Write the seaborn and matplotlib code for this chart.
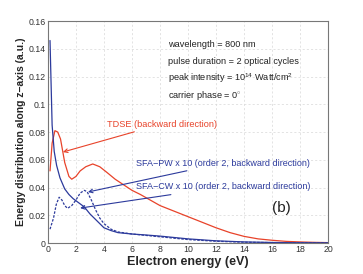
import matplotlib
matplotlib.use("Agg")
import matplotlib.pyplot as plt
import seaborn as sns
import pandas as pd
from matplotlib.ticker import MultipleLocator

# ==========================================
# DATA
# ==========================================
tdse_x = [0.15, 0.3, 0.5, 0.7, 0.9, 1.2, 1.5, 1.7, 2.0, 2.3, 2.7, 3.2, 3.7, 4.2, 4.8,
          5.4, 6.0, 6.6, 7.3, 8, 9, 10, 11, 12, 13, 14, 15, 16, 17, 18, 19, 20]
tdse_y = [0.052, 0.072, 0.081, 0.080, 0.075, 0.058, 0.048, 0.046, 0.048, 0.052, 0.055,
          0.057, 0.055, 0.051, 0.046, 0.042, 0.038, 0.035, 0.031, 0.027, 0.023, 0.019,
          0.015, 0.011, 0.0075, 0.0048, 0.003, 0.002, 0.0012, 0.0008, 0.0005, 0.0003]

cw_x = [0.15, 0.3, 0.45, 0.62, 0.86, 1.2, 1.5, 1.8, 2.2, 2.6, 3.0, 3.5, 4.0, 4.5, 5,
        6, 7, 8, 10, 12, 14, 16, 18, 20]
cw_y = [0.146, 0.085, 0.066, 0.056, 0.047, 0.039, 0.035, 0.032, 0.029, 0.026, 0.021,
        0.016, 0.011, 0.009, 0.0075, 0.0065, 0.0058, 0.005, 0.003, 0.0016, 0.0008,
        0.0004, 0.0002, 0.0001]

pw_x = [0.15, 0.4, 0.6, 0.8, 1.0, 1.2, 1.4, 1.7, 2.0, 2.3, 2.6, 2.8, 3.1, 3.4, 3.7,
        4.0, 4.5, 5, 6, 7, 8, 10, 12, 14, 16, 18, 20]
pw_y = [0.010, 0.018, 0.028, 0.033, 0.031, 0.027, 0.025, 0.027, 0.031, 0.036, 0.038,
        0.037, 0.031, 0.024, 0.018, 0.014, 0.010, 0.008, 0.0065, 0.0055, 0.0045,
        0.0025, 0.0013, 0.0006, 0.0003, 0.0002, 0.0001]

info_lines = ["wavelength = 800 nm",
              "pulse duration = 2 optical cycles",
              r"peak intensity = 10$^{14}$ Watt/cm$^2$",
              r"carrier phase = 0$^{\circ}$"]

RED = "#e8432a"
BLUE = "#2c3a9c"

sns.set_theme(style="whitegrid")
plt.rcParams["font.family"] = ["Liberation Sans", "DejaVu Sans"]
plt.rcParams["mathtext.fontset"] = "custom"
plt.rcParams["mathtext.rm"] = "Liberation Sans"

fig = plt.figure(figsize=(3.63, 2.74), dpi=100)
ax = fig.add_axes([0.132, 0.113, 0.772, 0.81])

sns.lineplot(data=pd.DataFrame({"x": tdse_x, "y": tdse_y}), x="x", y="y",
             color=RED, lw=0.9, ax=ax)
sns.lineplot(data=pd.DataFrame({"x": cw_x, "y": cw_y}), x="x", y="y",
             color=BLUE, lw=0.9, ax=ax)
sns.lineplot(data=pd.DataFrame({"x": pw_x, "y": pw_y}), x="x", y="y",
             color=BLUE, lw=0.9, ls=(0, (2, 1.2)), ax=ax)

ax.set_xlim(0, 20)
ax.set_ylim(0, 0.16)
ax.xaxis.set_major_locator(MultipleLocator(2))
ax.yaxis.set_major_locator(MultipleLocator(0.02))
ax.yaxis.set_major_formatter(plt.FuncFormatter(lambda v, p: f"{v:g}"))
ax.tick_params(labelsize=6.3, direction="in", length=2, pad=1.5, colors="#333333")
ax.grid(True, ls=(0, (3, 3)), lw=0.5, color="#d8d8d8")
for s in ax.spines.values():
    s.set_color("#777777")
    s.set_linewidth(0.8)

ax.set_xlabel("Electron energy (eV)", fontsize=9, fontweight="bold", labelpad=1)
ax.set_ylabel("Energy distribution along z\u2212axis (a.u.)", fontsize=7.5,
              fontweight="bold", labelpad=2)

for i, t in enumerate(info_lines):
    ax.text(8.6, 0.143 - i * 0.0122, t, fontsize=6.6, color="#222222", va="center")

arrow = dict(arrowstyle="->", lw=0.8, shrinkA=0, shrinkB=0)
ax.annotate("TDSE (backward direction)", xy=(1.07, 0.0656), xytext=(4.2, 0.0858),
            fontsize=6.6, color=RED, va="center",
            arrowprops=dict(arrow, color=RED))
ax.annotate("SFA\u2212PW x 10 (order 2, backward direction)", xy=(2.86, 0.0368),
            xytext=(6.3, 0.0577), fontsize=6.45, color=BLUE, va="center",
            arrowprops=dict(arrow, color=BLUE))
ax.annotate("SFA\u2212CW x 10 (order 2, backward direction)", xy=(2.3, 0.0252),
            xytext=(6.3, 0.0405), fontsize=6.45, color=BLUE, va="center",
            arrowprops=dict(arrow, color=BLUE))
ax.text(16.0, 0.025, "(b)", fontsize=11, color="#222222", va="center")

fig.savefig("out.png", dpi=100)
